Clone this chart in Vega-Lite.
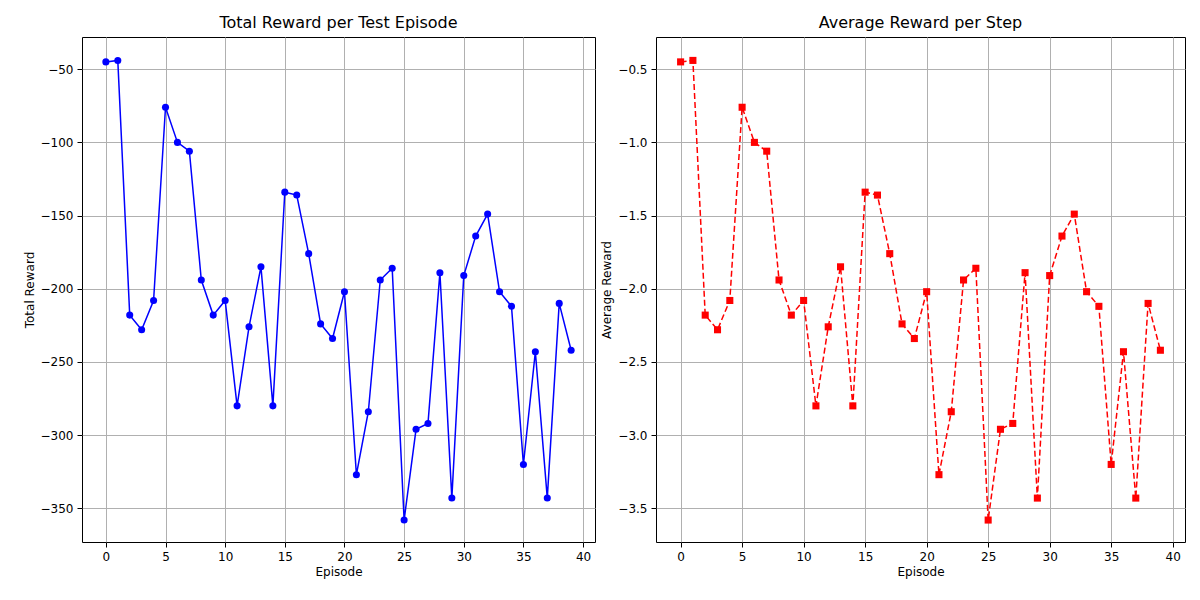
{
  "$schema": "https://vega.github.io/schema/vega-lite/v6.json",
  "background": "white",
  "padding": {"left": 22, "top": 14, "right": 5, "bottom": 5},
  "spacing": 4,
  "config": {
    "font": "DejaVu Sans",
    "view": {"stroke": "black", "strokeWidth": 1},
    "axis": {"grid": true, "gridColor": "#b0b0b0", "gridOpacity": 1, "domain": false, "tickColor": "black", "labelFontSize": 12, "titleFontSize": 12, "titleFontWeight": "normal", "labelColor": "black", "titleColor": "black", "labelPadding": 4},
    "title": {"fontSize": 16, "fontWeight": "normal", "offset": 6}
  },
  "data": {"values": [
    {"ep":0,"total":-45,"avg":-0.45},{"ep":1,"total":-44,"avg":-0.44},{"ep":2,"total":-218,"avg":-2.18},{"ep":3,"total":-228,"avg":-2.28},
    {"ep":4,"total":-208,"avg":-2.08},{"ep":5,"total":-76,"avg":-0.76},{"ep":6,"total":-100,"avg":-1.0},{"ep":7,"total":-106,"avg":-1.06},
    {"ep":8,"total":-194,"avg":-1.94},{"ep":9,"total":-218,"avg":-2.18},{"ep":10,"total":-208,"avg":-2.08},{"ep":11,"total":-280,"avg":-2.8},
    {"ep":12,"total":-226,"avg":-2.26},{"ep":13,"total":-185,"avg":-1.85},{"ep":14,"total":-280,"avg":-2.8},{"ep":15,"total":-134,"avg":-1.34},
    {"ep":16,"total":-136,"avg":-1.36},{"ep":17,"total":-176,"avg":-1.76},{"ep":18,"total":-224,"avg":-2.24},{"ep":19,"total":-234,"avg":-2.34},
    {"ep":20,"total":-202,"avg":-2.02},{"ep":21,"total":-327,"avg":-3.27},{"ep":22,"total":-284,"avg":-2.84},{"ep":23,"total":-194,"avg":-1.94},
    {"ep":24,"total":-186,"avg":-1.86},{"ep":25,"total":-358,"avg":-3.58},{"ep":26,"total":-296,"avg":-2.96},{"ep":27,"total":-292,"avg":-2.92},
    {"ep":28,"total":-189,"avg":-1.89},{"ep":29,"total":-343,"avg":-3.43},{"ep":30,"total":-191,"avg":-1.91},{"ep":31,"total":-164,"avg":-1.64},
    {"ep":32,"total":-149,"avg":-1.49},{"ep":33,"total":-202,"avg":-2.02},{"ep":34,"total":-212,"avg":-2.12},{"ep":35,"total":-320,"avg":-3.2},
    {"ep":36,"total":-243,"avg":-2.43},{"ep":37,"total":-343,"avg":-3.43},{"ep":38,"total":-210,"avg":-2.1},{"ep":39,"total":-242,"avg":-2.42}
  ]},
  "hconcat": [
    {
      "title": "Total Reward per Test Episode",
      "width": 513, "height": 505,
      "mark": {"type": "line", "color": "blue", "strokeWidth": 1.5, "point": {"filled": true, "color": "blue", "size": 50, "opacity": 1}},
      "encoding": {
        "x": {"field": "ep", "type": "quantitative", "title": "Episode", "scale": {"domain": [-2, 41], "nice": false, "zero": false}, "axis": {"values": [0,5,10,15,20,25,30,35,40]}},
        "y": {"field": "total", "type": "quantitative", "title": "Total Reward", "scale": {"domain": [-373, -28], "nice": false, "zero": false}, "axis": {"values": [-350,-300,-250,-200,-150,-100,-50], "format": "d"}}
      }
    },
    {
      "title": "Average Reward per Step",
      "width": 529, "height": 505,
      "mark": {"type": "line", "color": "red", "strokeWidth": 1.5, "strokeDash": [6, 3], "point": {"filled": true, "shape": "square", "color": "red", "size": 50, "opacity": 1}},
      "encoding": {
        "x": {"field": "ep", "type": "quantitative", "title": "Episode", "scale": {"domain": [-2, 41], "nice": false, "zero": false}, "axis": {"values": [0,5,10,15,20,25,30,35,40]}},
        "y": {"field": "avg", "type": "quantitative", "title": "Average Reward", "scale": {"domain": [-3.73, -0.28], "nice": false, "zero": false}, "axis": {"values": [-3.5,-3,-2.5,-2,-1.5,-1,-0.5], "format": ".1f"}}
      }
    }
  ]
}
